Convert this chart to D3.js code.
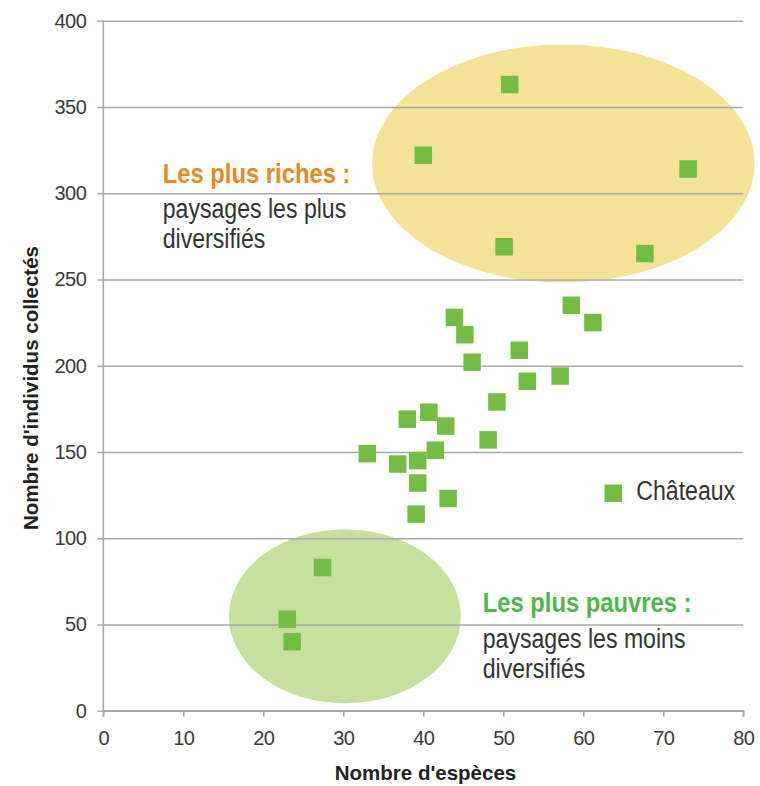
<!DOCTYPE html>
<html>
<head>
<meta charset="utf-8">
<script src="https://cdn.jsdelivr.net/npm/d3@7"></script>
<style>
  html, body { margin: 0; padding: 0; background: #fff; }
  svg { display: block; }
</style>
</head>
<body>
<svg id="chart" width="760" height="786"></svg>
<script>
// Species count (x) and individuals collected (y) for each château site
const species = [50.8, 40.0, 73.1, 50.1, 67.7, 58.5, 61.2, 43.9, 45.2, 46.1,
                 52.0, 53.0, 57.1, 49.2, 38.0, 40.7, 42.8, 48.1, 41.5, 36.8,
                 39.3, 39.3, 43.1, 39.1, 33.0, 27.4, 23.0, 23.6];
const individuals = [363, 322, 314, 269, 265, 235, 225, 228, 218, 202,
                     209, 191, 194, 179, 169, 173, 165, 157, 151, 143,
                     145, 132, 123, 114, 149, 83, 53, 40];

// Highlighted groups, in axis units: centre and radii
const groupNames = ["riches", "pauvres"];
const groupCx = [57.5, 30.2];
const groupCy = [317.2, 54.7];
const groupRx = [23.9, 14.5];
const groupRy = [69.0, 50.4];

const xTicks = [0, 10, 20, 30, 40, 50, 60, 70, 80];
const yTicks = [0, 50, 100, 150, 200, 250, 300, 350, 400];

const seriesName = "Châteaux";
const xTitle = "Nombre d'espèces";
const yTitle = "Nombre d'individus collectés";

const svg = d3.select("#chart");
const plotLeft = 103.3, plotRight = 743.3, plotTop = 20.7, plotBottom = 710.7;

const x = d3.scaleLinear().domain([0, 80]).range([plotLeft, plotRight]);
const y = d3.scaleLinear().domain([0, 400]).range([plotBottom, plotTop]);

const groupFill = ["#f2e397", "#c6e09e"];
const markerColor = "#74bd43";
const gridColor = "#a9a9ab";
const textColor = "#333333";
const sans = "'Liberation Sans', Arial, Helvetica, sans-serif";

// Group ellipses sit under the grid
svg.append("g").selectAll("ellipse")
  .data(groupNames)
  .join("ellipse")
  .attr("cx", (d, i) => x(groupCx[i]))
  .attr("cy", (d, i) => y(groupCy[i]))
  .attr("rx", (d, i) => x(groupRx[i]) - x(0))
  .attr("ry", (d, i) => y(0) - y(groupRy[i]))
  .attr("fill", (d, i) => groupFill[i]);

// Horizontal grid lines with left ticks
const yAxis = d3.axisLeft(y).tickValues(yTicks).tickSize(plotRight - plotLeft + 6).tickPadding(11);
const gy = svg.append("g")
  .attr("transform", `translate(${plotRight},0)`)
  .call(yAxis);
gy.select(".domain").remove();
gy.selectAll(".tick line").attr("stroke", gridColor).attr("stroke-width", 1.6);
gy.selectAll(".tick text")
  .attr("font-family", sans)
  .attr("font-size", 20)
  .attr("fill", "#3a3a3a")
  .attr("letter-spacing", -0.5);

// Bottom axis
const xAxis = d3.axisBottom(x).tickValues(xTicks).tickSize(6).tickPadding(14);
const gx = svg.append("g")
  .attr("transform", `translate(0,${plotBottom})`)
  .call(xAxis);
gx.select(".domain").attr("stroke", gridColor).attr("stroke-width", 1.6)
  .attr("d", `M${plotLeft},6V0H${plotRight}V6`);
gx.selectAll(".tick line").attr("stroke", gridColor).attr("stroke-width", 1.6);
gx.selectAll(".tick text")
  .attr("font-family", sans)
  .attr("font-size", 20)
  .attr("fill", "#3a3a3a")
  .attr("letter-spacing", -0.5);

// Vertical axis line
svg.append("line")
  .attr("x1", plotLeft).attr("x2", plotLeft)
  .attr("y1", plotTop).attr("y2", plotBottom)
  .attr("stroke", gridColor).attr("stroke-width", 1.6);

// Data points
const size = 17.5;
svg.append("g").selectAll("rect")
  .data(species)
  .join("rect")
  .attr("x", (d) => x(d) - size / 2)
  .attr("y", (d, i) => y(individuals[i]) - size / 2)
  .attr("width", size)
  .attr("height", size)
  .attr("fill", markerColor);

// Condensed text: horizontally squeezed sans
function condensedText(x0, y0, str, opts) {
  const sx = opts.bold ? 0.85 : 0.825;
  svg.append("text")
    .attr("transform", `translate(${x0},${y0}) scale(${sx},1)`)
    .attr("font-family", sans)
    .attr("font-size", 28)
    .attr("font-weight", opts.bold ? "bold" : "normal")
    .attr("fill", opts.color)
    .text(str);
}

// Legend
const legendX = 613.3, legendY = 493.3;
svg.append("rect")
  .attr("x", legendX - size / 2).attr("y", legendY - size / 2)
  .attr("width", size).attr("height", size)
  .attr("fill", markerColor);
condensedText(legendX + 23, legendY + 7, seriesName, { color: textColor });

// Annotations
condensedText(162.7, 182.5, "Les plus riches :", { bold: true, color: "#e8891f" });
condensedText(162.7, 218.3, "paysages les plus", { color: textColor });
condensedText(162.7, 248.3, "diversifiés", { color: textColor });

condensedText(482.7, 611.7, "Les plus pauvres :", { bold: true, color: "#4fb748" });
condensedText(482.7, 648.3, "paysages les moins", { color: textColor });
condensedText(482.7, 677.7, "diversifiés", { color: textColor });

// Axis titles
svg.append("text")
  .attr("x", 425.5).attr("y", 780)
  .attr("text-anchor", "middle")
  .attr("font-family", sans)
  .attr("font-weight", "bold")
  .attr("font-size", 20.5)
  .attr("fill", "#222")
  .text(xTitle);

svg.append("text")
  .attr("transform", "translate(37.5,388) rotate(-90)")
  .attr("text-anchor", "middle")
  .attr("font-family", sans)
  .attr("font-weight", "bold")
  .attr("font-size", 20.5)
  .attr("fill", "#222")
  .text(yTitle);
</script>
</body>
</html>
